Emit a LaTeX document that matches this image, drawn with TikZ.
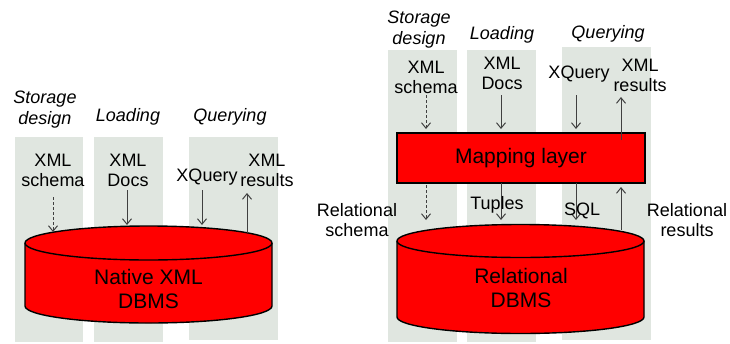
\documentclass[tikz,border=0pt]{standalone}
\usepackage{fontspec}
\setmainfont{Liberation Sans}
\usetikzlibrary{arrows.meta}
\definecolor{colbg}{RGB}{224,230,224}
\definecolor{dbred}{RGB}{255,0,0}
\begin{document}
\begin{tikzpicture}[x=1pt,y=1pt,
  lbl/.style={font=\fontsize{18}{20}\selectfont, align=center, inner sep=0pt, text depth=0pt},
  phase/.style={lbl, font=\fontsize{18}{21}\selectfont\itshape},
  big/.style={font=\fontsize{21}{24}\selectfont, align=center, inner sep=0pt},
  col/.style={fill=colbg, draw=none},
  flow/.style={draw=black!75, line width=1pt, -{Straight Barb[length=5.5pt,width=9pt]}},
  dflow/.style={flow, dash pattern=on 3pt off 2pt},
  dbstroke/.style={draw=black, line width=1.4pt},
  layer/.style={fill=dbred, draw=black, line width=1.6pt, minimum width=248pt, minimum height=50pt, font=\fontsize{21}{24}\selectfont, inner sep=0pt}
]
\useasboundingbox (0,0) rectangle (730,-343);
% ---------- left: native XML ----------
\fill[col] (15,-137) rectangle (83,-342);
\fill[col] (94,-137) rectangle (163,-342);
\fill[col] (189,-137) rectangle (278,-340);
\node[phase] (sd1) at (45,-108) {Storage\\design};
\node[phase] (ld1) at (128,-115) {Loading};
\node[phase] (qy1) at (230,-115) {Querying};
\node[lbl] (xs1) at (53,-170) {XML\\schema};
\node[lbl] (xd1) at (128,-170) {XML\\Docs};
\node[lbl] (xq1) at (207,-175) {XQuery};
\node[lbl] (xr1) at (267,-170) {XML\\results};
% cylinder
\fill[dbred] (25,-243) -- (25,-306) arc[start angle=180,end angle=360,x radius=123.5,y radius=17] -- (272,-243) arc[start angle=0,end angle=180,x radius=123.5,y radius=17] -- cycle;
\draw[dbstroke] (25,-243) -- (25,-306) arc[start angle=180,end angle=360,x radius=123.5,y radius=17] -- (272,-243);
\draw[dbstroke] (148.5,-243) ellipse[x radius=123.5,y radius=17];
\node[big] (db1) at (148.5,-289) {Native XML\\DBMS};
\coordinate (t1a) at (53,-232);
\coordinate (t1b) at (127,-225);
\coordinate (t1c) at (202,-225);
\coordinate (t1d) at (247,-233);
\coordinate (s1a) at (53,-197);
\coordinate (s1b) at (127,-190);
\coordinate (s1c) at (202,-190);
\coordinate (e1d) at (247,-193);
\draw[dflow] (s1a) -- (t1a);
\draw[flow] (s1b) -- (t1b);
\draw[flow] (s1c) -- (t1c);
\draw[flow] (t1d) -- (e1d);
% ---------- right: relational ----------
\fill[col] (388,-50) rectangle (457,-342);
\fill[col] (467,-50) rectangle (536,-342);
\fill[col] (562,-47) rectangle (651,-340);
\node[phase] (sd2) at (419,-28) {Storage\\design};
\node[phase] (ld2) at (502,-33) {Loading};
\node[phase] (qy2) at (608,-32) {Querying};
\node[lbl] (xs2) at (426,-77) {XML\\schema};
\node[lbl] (xd2) at (502,-73) {XML\\Docs};
\node[lbl] (xq2) at (579,-72) {XQuery};
\node[lbl] (xr2) at (640,-75) {XML\\results};
\node[layer] (ml) at (521,-158) {Mapping layer};
% cylinder
\fill[dbred] (397,-241) -- (397,-317) arc[start angle=180,end angle=360,x radius=123.5,y radius=16.5] -- (644,-241) arc[start angle=0,end angle=180,x radius=123.5,y radius=16.5] -- cycle;
\draw[dbstroke] (397,-241) -- (397,-317) arc[start angle=180,end angle=360,x radius=123.5,y radius=16.5] -- (644,-241);
\draw[dbstroke] (520.5,-241) ellipse[x radius=123.5,y radius=16.5];
\node[big] (db2) at (521,-288) {Relational\\DBMS};
% arrows above layer
\coordinate (s2a) at (426,-95);
\coordinate (s2b) at (501,-95);
\coordinate (s2c) at (576,-95);
\coordinate (t2a) at (426,-129);
\coordinate (t2b) at (501,-129);
\coordinate (t2c) at (576,-129);
\coordinate (s2d) at (621,-140);
\coordinate (e2d) at (621,-97);
\draw[dflow] (s2a) -- (t2a);
\draw[flow] (s2b) -- (t2b);
\draw[flow] (s2c) -- (t2c);
\draw[flow] (s2d) -- (e2d);
% arrows below layer
\coordinate (b2a) at (426,-185);
\coordinate (c2a) at (426,-220);
\coordinate (b2b) at (501,-183);
\coordinate (c2b) at (501,-220);
\coordinate (b2c) at (576,-183);
\coordinate (c2c) at (576,-220);
\coordinate (b2d) at (621,-230);
\coordinate (c2d) at (621,-187);
\draw[dflow] (b2a) -- (c2a);
\draw[flow] (b2b) -- (c2b);
\draw[flow] (b2c) -- (c2c);
\draw[flow] (b2d) -- (c2d);
\node[lbl] (tp) at (497,-203) {Tuples};
\node[lbl] (sq) at (582,-209) {SQL};
\node[lbl] (rs) at (357,-220) {Relational\\schema};
\node[lbl] (rr) at (687,-220) {Relational\\results};
\end{tikzpicture}
\end{document}
